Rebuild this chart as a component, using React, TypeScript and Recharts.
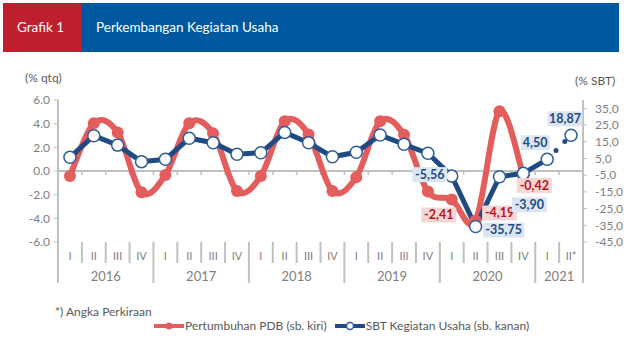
import React from "react";
import { ComposedChart, LabelList, Line, ReferenceLine, XAxis, YAxis } from "recharts";

const quarterLabels = [
  "I", "II", "III", "IV",
  "I", "II", "III", "IV",
  "I", "II", "III", "IV",
  "I", "II", "III", "IV",
  "I", "II", "III", "IV",
  "I", "II*",
];
const yearLabels = ["2016", "2017", "2018", "2019", "2020", "2021"];
const quartersPerYear = [4, 4, 4, 4, 4, 2];

// Pertumbuhan PDB, % qtq (sb. kiri)
const pdb = [
  -0.42, 4.03, 3.25, -1.8,
  -0.34, 4.03, 3.18, -1.69,
  -0.42, 4.21, 3.09, -1.69,
  -0.52, 4.2, 3.06, -1.74,
  -2.41, -4.19, 5.05, -0.42,
  null, null,
];
// SBT Kegiatan Usaha, % (sb. kanan)
const sbt = [
  5.7, 18.6, 13.0, 3.1,
  4.5, 17.1, 14.4, 7.5,
  8.4, 20.6, 14.4, 6.0,
  8.7, 19.0, 13.5, 8.1,
  -5.56, -35.75, -5.9, -3.9,
  4.5, null,
];
const sbtForecast = [
  null, null, null, null, null, null, null, null, null, null,
  null, null, null, null, null, null, null, null, null, null,
  4.5, 18.87,
];

const leftTicks = [-6, -4, -2, 0, 2, 4, 6];
const rightTicks = [-45, -35, -25, -15, -5, 5, 15, 25, 35];

const RED = "#e35d5d";
const NAVY = "#1f4a84";
const NAVY_EDGE = "#2f5d96";
const GRID = "#c0c0c0";
const AXIS_TEXT = "#7f7f7f";

const data = quarterLabels.map((q, i) => ({
  key: i,
  q,
  pdb: pdb[i],
  sbt: sbt[i],
  sbtF: sbtForecast[i],
}));

// index of first quarter of each year -> year index
const yearStart: Record<number, number> = {};
quartersPerYear.reduce((start, n, yi) => {
  yearStart[start] = yi;
  return start + n;
}, 0);
const yearEnd = new Set<number>();
quartersPerYear.reduce((start, n) => {
  yearEnd.add(start + n - 1);
  return start + n;
}, 0);

// label offsets (px) from the point, by category index
const redLabelPos: Record<number, [number, number]> = { 16: [-13, 16], 17: [24, -7], 19: [11, 10] };
const blueLabelPos: Record<number, [number, number]> = { 16: [-22, -1], 17: [28, 4], 19: [6, 32], 20: [-12, -16] };
const forecastLabelPos: Record<number, [number, number]> = { 21: [-6, -16] };

const fmt2 = (v: number) => v.toFixed(2).replace(".", ",");

// Excel-like smoothed line (Catmull-Rom through the points)
function smoothCurve(context: any) {
  let pts: [number, number][] = [];
  return {
    areaStart() {},
    areaEnd() {},
    lineStart() {
      pts = [];
    },
    lineEnd() {
      if (!pts.length) return;
      context.moveTo(pts[0][0], pts[0][1]);
      for (let i = 0; i < pts.length - 1; i++) {
        const p0 = pts[i - 1] || pts[i];
        const p1 = pts[i];
        const p2 = pts[i + 1];
        const p3 = pts[i + 2] || p2;
        context.bezierCurveTo(
          p1[0] + (p2[0] - p0[0]) / 6,
          p1[1] + (p2[1] - p0[1]) / 6,
          p2[0] - (p3[0] - p1[0]) / 6,
          p2[1] - (p3[1] - p1[1]) / 6,
          p2[0],
          p2[1]
        );
      }
    },
    point(x: number, y: number) {
      pts.push([+x, +y]);
    },
  };
}

function makeLabel(pos: Record<number, [number, number]>, bg: string, fg: string) {
  return (p: any) => {
    const off = pos[p.index];
    if (!off || p.value == null) return null;
    const px = p.x ?? p.viewBox?.x;
    const py = p.y ?? p.viewBox?.y;
    const t = fmt2(p.value);
    const w = t.length * 6 + 5;
    const cx = px + off[0];
    const cy = py + off[1];
    return (
      <g key={`lbl-${p.index}`}>
        <rect x={cx - w / 2} y={cy - 8} width={w} height={15} fill={bg} />
        <text x={cx} y={cy} dy="0.3em" textAnchor="middle" fontSize={12.5} fontWeight={700} fill={fg}>
          {t}
        </text>
      </g>
    );
  };
}

function ForecastDot(props: any) {
  const { cx, cy, index } = props;
  if (index !== 21 || cy == null) return <g key={`fd-${index}`} />;
  return <circle key={`fd-${index}`} cx={cx} cy={cy} r={6} fill="#fff" stroke={NAVY_EDGE} strokeWidth={1.5} />;
}

function QuarterTick(props: any) {
  const { x, y, payload } = props;
  const i = payload.index ?? props.index;
  const half = payload.offset || 12;
  const last = i === quarterLabels.length - 1;
  const rx = x + half;
  const long = yearEnd.has(i);
  const yi = yearStart[i];
  return (
    <g>
      {i === 0 && <line x1={x - half} x2={x - half} y1={y} y2={y + 41} stroke={GRID} strokeWidth={2} />}
      <line x1={rx} x2={rx} y1={y} y2={long ? y + 41 : y + 21} stroke={GRID} strokeWidth={2} />
      <text x={x} y={y + 14} dy="0.35em" textAnchor="middle" fontSize={11} fill={AXIS_TEXT}>
        {quarterLabels[i]}
      </text>
      {yi !== undefined && (
        <text x={x - half + quartersPerYear[yi] * half} y={y + 34} dy="0.35em" textAnchor="middle" fontSize={13} fill={AXIS_TEXT}>
          {yearLabels[yi]}
        </text>
      )}
      {last && null}
    </g>
  );
}

function ZeroLine(props: any) {
  const { x1, x2, y1 } = props;
  const n = quarterLabels.length;
  const step = (x2 - x1) / n;
  return (
    <g>
      <line x1={x1} x2={x2} y1={y1} y2={y1} stroke={GRID} strokeWidth={2} />
      {quarterLabels.slice(1).map((_, k) => (
        <line key={k} x1={x1 + (k + 1) * step} x2={x1 + (k + 1) * step} y1={y1} y2={y1 + 4} stroke={GRID} strokeWidth={1.5} />
      ))}
    </g>
  );
}

export default function App() {
  return (
    <div
      style={{
        position: "absolute",
        left: 0,
        top: 0,
        width: 624,
        height: 343,
        background: "#fff",
        fontFamily: "Lato, 'Open Sans', sans-serif",
        overflow: "hidden",
      }}
    >
      <div style={{ position: "absolute", left: 3, top: 3, width: 79, height: 49, background: "#be1e2d" }} />
      <div style={{ position: "absolute", left: 82, top: 3, width: 537, height: 49, background: "#0059a0" }} />
      <div style={{ position: "absolute", left: 17, top: 19, color: "#fff", fontSize: 13.5 }}>Grafik 1</div>
      <div style={{ position: "absolute", left: 96, top: 19, color: "#fff", fontSize: 13.5 }}>Perkembangan Kegiatan Usaha</div>
      <div style={{ position: "absolute", left: 25, top: 70, color: "#595959", fontSize: 12 }}>(% qtq)</div>
      <div style={{ position: "absolute", left: 575, top: 73, color: "#595959", fontSize: 12 }}>(% SBT)</div>
      <div style={{ position: "absolute", left: 55, top: 304, color: "#595959", fontSize: 12 }}>*) Angka Perkiraan</div>

      <div style={{ position: "absolute", left: 0, top: 0 }}>
        <ComposedChart width={624} height={343} data={data} margin={{ top: 100, right: 0, bottom: 56, left: 8 }}>
          <XAxis
            dataKey="key"
            type="category"
            scale="band"
            axisLine={false}
            tickLine={false}
            tickSize={0}
            tickMargin={0}
            height={45}
            interval={0}
            tick={<QuarterTick />}
          />
          <YAxis
            yAxisId="left"
            domain={[-6, 6]}
            ticks={leftTicks}
            interval={0}
            tickFormatter={(v: number) => v.toFixed(1)}
            axisLine={{ stroke: GRID, strokeWidth: 2 }}
            tickLine={{ stroke: GRID }}
            tickSize={4}
            tickMargin={4}
            width={50}
            tick={{ fontSize: 12, fill: AXIS_TEXT }}
          />
          <YAxis
            yAxisId="right"
            orientation="right"
            domain={[-45, 40]}
            ticks={rightTicks}
            interval={0}
            tickFormatter={(v: number) => v.toFixed(1).replace(".", ",")}
            axisLine={{ stroke: GRID, strokeWidth: 2 }}
            tickLine={{ stroke: GRID }}
            tickSize={4}
            tickMargin={8}
            width={41}
            tick={{ fontSize: 12, fill: AXIS_TEXT, textAnchor: "start" }}
          />
          <ReferenceLine y={0} yAxisId="left" shape={<ZeroLine />} />
          <Line
            yAxisId="left"
            dataKey="pdb"
            type={smoothCurve as any}
            stroke={RED}
            strokeWidth={6}
            dot={{ r: 6, fill: RED, stroke: RED, strokeWidth: 0 }}
            activeDot={false}
            isAnimationActive={false}
          >
            <LabelList dataKey="pdb" content={makeLabel(redLabelPos, "#f5d6d6", "#b8121b")} />
          </Line>
          <Line
            yAxisId="right"
            dataKey="sbtF"
            type="linear"
            stroke={NAVY}
            strokeWidth={5}
            strokeDasharray="0 12.5"
            strokeLinecap="round"
            dot={<ForecastDot />}
            activeDot={false}
            isAnimationActive={false}
          >
            <LabelList dataKey="sbtF" content={makeLabel(forecastLabelPos, "#dce6f2", NAVY)} />
          </Line>
          <Line
            yAxisId="right"
            dataKey="sbt"
            type="linear"
            stroke={NAVY}
            strokeWidth={5}
            dot={{ r: 6, fill: "#fff", stroke: NAVY_EDGE, strokeWidth: 1.5 }}
            activeDot={false}
            isAnimationActive={false}
          >
            <LabelList dataKey="sbt" content={makeLabel(blueLabelPos, "#dce6f2", NAVY)} />
          </Line>
        </ComposedChart>
      </div>

      <div style={{ position: "absolute", left: 154, top: 318, display: "flex", alignItems: "center", fontSize: 12, color: "#595959" }}>
        <svg width={30} height={14}>
          <line x1={0} x2={30} y1={7} y2={7} stroke={RED} strokeWidth={4} />
          <circle cx={15} cy={7} r={3.5} fill={RED} />
        </svg>
        <span style={{ marginLeft: 1, marginRight: 8 }}>Pertumbuhan PDB (sb. kiri)</span>
        <svg width={30} height={14}>
          <line x1={0} x2={30} y1={7} y2={7} stroke={NAVY} strokeWidth={4} />
          <circle cx={15} cy={7} r={3.5} fill="#fff" stroke={NAVY_EDGE} strokeWidth={1.5} />
        </svg>
        <span style={{ marginLeft: 1 }}>SBT Kegiatan Usaha (sb. kanan)</span>
      </div>
    </div>
  );
}
